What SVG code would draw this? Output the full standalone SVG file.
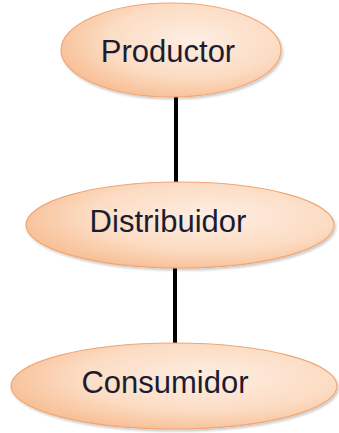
<svg xmlns="http://www.w3.org/2000/svg" width="339" height="433" viewBox="0 0 339 433">
<style>
.node ellipse{fill:url(#g);stroke:#f0a676;stroke-width:1.2;filter:url(#sh)}
.node text{font-family:"Liberation Sans",Arial,sans-serif;font-size:31px;fill:#1c1c30;text-anchor:middle}
.edge{stroke:#000;stroke-width:4;fill:none}
</style>
<defs>
<radialGradient id="g" cx="0.6" cy="0.4" r="0.65">
<stop offset="0" stop-color="#fdeee3"/>
<stop offset="0.6" stop-color="#fcdcc3"/>
<stop offset="1" stop-color="#f7be94"/>
</radialGradient>
<filter id="sh" x="-10%" y="-10%" width="125%" height="130%">
<feDropShadow dx="1.5" dy="2" stdDeviation="1.2" flood-color="#000" flood-opacity="0.2"/>
</filter>
</defs>
<rect width="339" height="433" fill="#fff"/>
<g id="connectors">
<line class="edge" x1="176" y1="96" x2="176" y2="184"/>
<line class="edge" x1="175" y1="266" x2="175" y2="345"/>
</g>
<g id="productor" class="node">
<ellipse cx="171" cy="50" rx="110" ry="47"/>
<text x="168" y="62">Productor</text>
</g>
<g id="distribuidor" class="node">
<ellipse cx="180" cy="225" rx="154" ry="43"/>
<text x="168" y="232">Distribuidor</text>
</g>
<g id="consumidor" class="node">
<ellipse cx="174" cy="386" rx="163" ry="43"/>
<text x="165" y="393">Consumidor</text>
</g>
</svg>
